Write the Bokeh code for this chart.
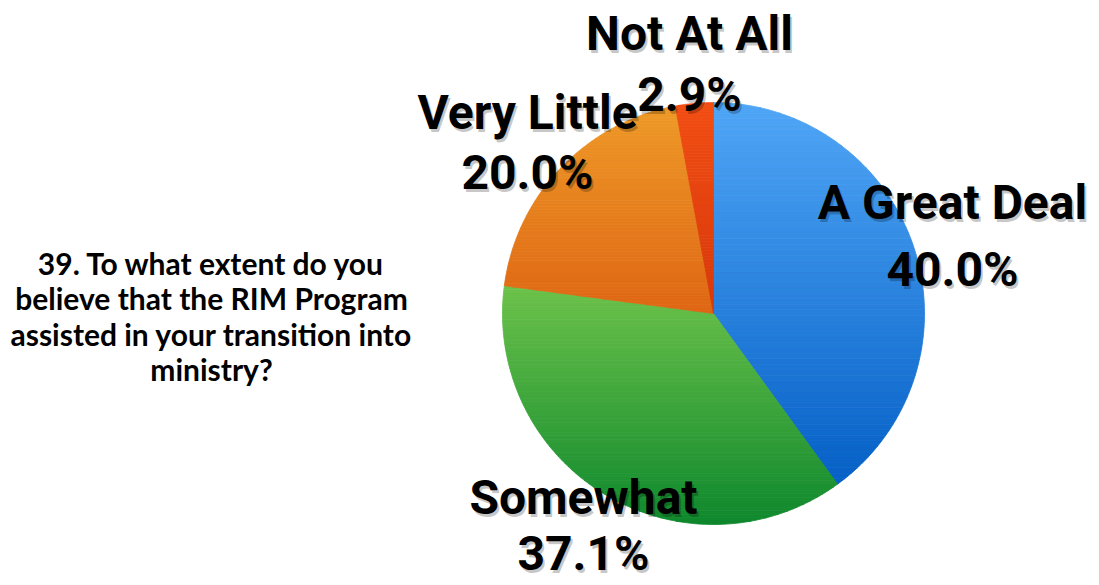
import numpy as np
from bokeh.plotting import figure
from bokeh.models import ColumnDataSource
from bokeh.core.properties import value
from bokeh.embed import file_html
from bokeh.resources import INLINE

# ---------------- data ----------------
categories = ["A Great Deal", "Somewhat", "Very Little", "Not At All"]
percents = [40.0, 37.1, 20.0, 2.9]
pct_labels = ["40.0%", "37.1%", "20.0%", "2.9%"]
title_lines = ["39. To what extent do you",
               "believe that the RIM Program",
               "assisted in your transition into",
               "ministry?"]

# ---------------- styles / layout ----------------
top_colors = ["#50A6F6", "#6CC24A", "#EE9A28", "#F24E14"]
bottom_colors = ["#0560C6", "#0E882D", "#DF6614", "#D6380A"]

W, H = 1099, 585
CX, CY, R = 713, H - 313, 211
label_layout = {  # (center x, name center y from top, pct center y from top)
    "A Great Deal": (952, 202, 269),
    "Somewhat": (583, 497, 553),
    "Very Little": (527, 112, 172),
    "Not At All": (689, 33, 94),
}
LABEL_FONT = "Roboto"
LABEL_SIZE = "48px"
TITLE_X, TITLE_Y0, TITLE_DY = 211, 262, 35.5

p = figure(width=W, height=H, x_range=(0, W), y_range=(0, H),
           output_backend="svg", toolbar_location=None, min_border=0,
           x_axis_location=None, y_axis_location=None)
p.grid.visible = False
p.outline_line_color = None
p.background_fill_color = "white"
p.border_fill_color = "white"


def hex2rgb(h):
    h = h.lstrip("#")
    return np.array([int(h[i:i + 2], 16) for i in (0, 2, 4)], dtype=float)


def rgb2hex(c):
    c = np.clip(np.round(c), 0, 255).astype(int)
    return "#%02x%02x%02x" % tuple(c)


def clip_poly(pts, y, keep_above):
    out = []
    n = len(pts)
    for i in range(n):
        a = pts[i]
        b = pts[(i + 1) % n]
        ina = a[1] >= y if keep_above else a[1] <= y
        inb = b[1] >= y if keep_above else b[1] <= y
        if ina:
            out.append(a)
        if ina != inb:
            t = (y - a[1]) / (b[1] - a[1])
            out.append((a[0] + t * (b[0] - a[0]), y))
    return out


# ---------------- pie with vertical gradients ----------------
total = sum(percents)
cum = np.concatenate([[0.0], np.cumsum(percents)]) / total
xs, ys, cols = [], [], []
NB = 70
for i, cat in enumerate(categories):
    a0 = np.pi / 2 - 2 * np.pi * cum[i]
    a1 = np.pi / 2 - 2 * np.pi * cum[i + 1]
    th = np.linspace(a0, a1, 120)
    poly = [(CX, CY)] + [(CX + R * np.cos(t), CY + R * np.sin(t)) for t in th]
    ymin = min(q[1] for q in poly)
    ymax = max(q[1] for q in poly)
    ctop, cbot = hex2rgb(top_colors[i]), hex2rgb(bottom_colors[i])
    edges = np.linspace(ymin, ymax, NB + 1)
    for k in range(NB):
        y0, y1 = edges[k], edges[k + 1]
        band = clip_poly(clip_poly(poly, y0, True), y1, False)
        if len(band) < 3:
            continue
        f = 1 - ((y0 + y1) / 2 - ymin) / (ymax - ymin)  # 0 at top, 1 at bottom
        cols.append(rgb2hex(ctop + (cbot - ctop) * f))
        xs.append([q[0] for q in band])
        ys.append([q[1] for q in band])

p.patches(xs="xs", ys="ys", fill_color="c", line_color="c", line_width=0.8,
          source=ColumnDataSource(dict(xs=xs, ys=ys, c=cols)))

# ---------------- labels ----------------
lx, ly, lt = [], [], []
for cat, pct in zip(categories, pct_labels):
    x, yn, yp = label_layout[cat]
    lx += [x, x]
    ly += [H - yn, H - yp]
    lt += [cat, pct]

shadow = ColumnDataSource(dict(x=[v + 2 for v in lx], y=[v - 3 for v in ly], t=lt))
main = ColumnDataSource(dict(x=lx, y=ly, t=lt))
p.text(x="x", y="y", text="t", source=shadow, text_font=value(LABEL_FONT),
       text_font_size=LABEL_SIZE, text_font_style="bold", text_color="#000000",
       text_alpha=0.22, text_align="center", text_baseline="middle")
p.text(x="x", y="y", text="t", source=main, text_font=value(LABEL_FONT),
       text_font_size=LABEL_SIZE, text_font_style="bold", text_color="#000000",
       text_align="center", text_baseline="middle")

# ---------------- question text ----------------
p.text(x=[TITLE_X] * len(title_lines),
       y=[H - (TITLE_Y0 + TITLE_DY * i) for i in range(len(title_lines))],
       text=title_lines, text_font=value("Lato"), text_font_size="30px",
       text_font_style="bold", text_color="#000000",
       text_align="center", text_baseline="middle")

open("out.html", "w").write(file_html(p, INLINE))
